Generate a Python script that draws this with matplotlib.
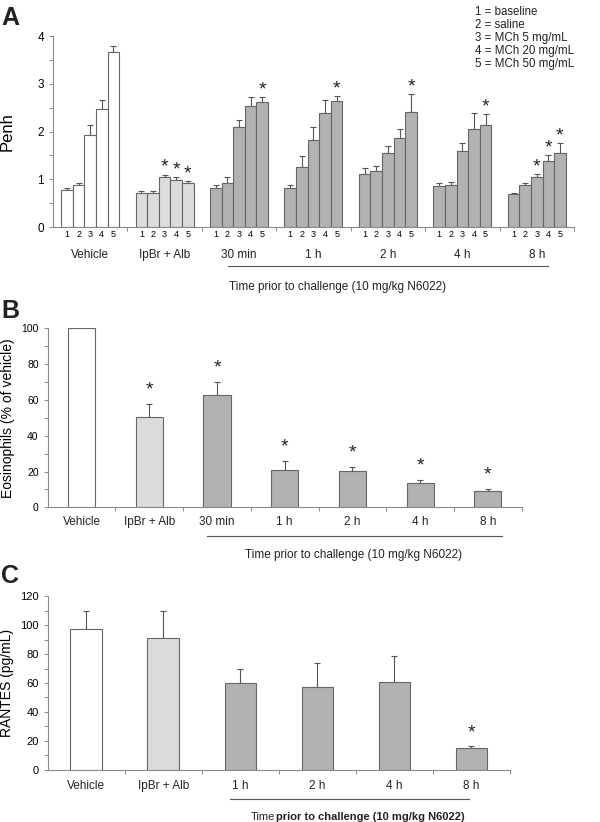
import numpy as np
import matplotlib.pyplot as plt
from matplotlib.transforms import blended_transform_factory

plt.rcParams['font.family'] = ['Liberation Sans', 'DejaVu Sans']
plt.rcParams['text.color'] = '#222222'

# ---- data ----
groups_a = ['Vehicle', 'IpBr + Alb', '30 min', '1 h', '2 h', '4 h', '8 h']
penh = [
    [0.77, 0.87, 1.92, 2.48, 3.66],
    [0.71, 0.71, 1.04, 0.98, 0.92],
    [0.82, 0.93, 2.10, 2.53, 2.62],
    [0.82, 1.26, 1.82, 2.38, 2.64],
    [1.11, 1.17, 1.54, 1.86, 2.41],
    [0.85, 0.87, 1.59, 2.05, 2.14],
    [0.69, 0.88, 1.04, 1.38, 1.54],
]
penh_err = [
    [0.05, 0.06, 0.21, 0.19, 0.14],
    [0.05, 0.05, 0.06, 0.06, 0.04],
    [0.06, 0.11, 0.14, 0.20, 0.11],
    [0.07, 0.23, 0.27, 0.28, 0.11],
    [0.12, 0.11, 0.15, 0.19, 0.38],
    [0.07, 0.07, 0.18, 0.33, 0.23],
    [0.03, 0.04, 0.07, 0.13, 0.21],
]
# (group, bar) pairs marked with *
penh_stars = [(1, 2), (1, 3), (1, 4), (2, 4), (3, 4), (4, 4), (5, 4), (6, 2), (6, 3), (6, 4)]
dose_labels = ['1', '2', '3', '4', '5']
legend_lines = ['1 = baseline', '2 = saline', '3 = MCh 5 mg/mL', '4 = MCh 20 mg/mL', '5 = MCh 50 mg/mL']

groups_b = ['Vehicle', 'IpBr + Alb', '30 min', '1 h', '2 h', '4 h', '8 h']
eos = [100, 50.3, 62.6, 20.8, 20.1, 13.4, 9.1]
eos_err = [0, 7.2, 7.2, 4.9, 2.4, 1.7, 1.0]
eos_stars = [1, 2, 3, 4, 5, 6]

groups_c = ['Vehicle', 'IpBr + Alb', '1 h', '2 h', '4 h', '8 h']
rantes = [97.0, 90.8, 59.8, 57.0, 60.5, 15.0]
rantes_err = [12.9, 19.1, 9.6, 17.0, 18.4, 1.3]
rantes_stars = [5]

WHITE, LIGHT, MID = '#ffffff', '#dcdcdc', '#b2b2b2'
EDGE = '#666666'
AXC = '#8a8a8a'


def colors_for(n_white, n_light, n):
    return [WHITE] * n_white + [LIGHT] * n_light + [MID] * (n - n_white - n_light)


def style_axes(ax):
    for s in ['top', 'right']:
        ax.spines[s].set_visible(False)
    for s in ['left', 'bottom']:
        ax.spines[s].set_color(AXC)
        ax.spines[s].set_linewidth(0.8)
    ax.tick_params(axis='both', which='both', color=AXC, direction='out', length=3, width=0.7)


def star(ax, x, y, size=14):
    ax.annotate('*', xy=(x, y), xytext=(0, -1), textcoords='offset points',
                ha='center', va='bottom', fontsize=size, color='#222222')


fig = plt.figure(figsize=(6, 8.22), dpi=100)

# ================= Panel A =================
axA = fig.add_axes([0.0883, 0.7238, 0.8683, 0.2324])
style_axes(axA)
bw = 0.156
colA = colors_for(1, 1, len(groups_a))
xs_all, labs_all = [], []
for g, (vals, errs) in enumerate(zip(penh, penh_err)):
    xs = g + (np.arange(5) - 2) * bw
    axA.bar(xs, vals, width=bw, color=colA[g], edgecolor=EDGE, linewidth=0.8, zorder=2)
    axA.errorbar(xs, vals, yerr=[np.zeros(5), errs], fmt='none', ecolor='#555555',
                 elinewidth=0.8, capsize=2, capthick=0.8, zorder=1)
    xs_all.extend(xs)
    labs_all.extend(dose_labels)
for g, b in penh_stars:
    x = g + (b - 2) * bw
    star(axA, x, penh[g][b] + penh_err[g][b], size=14)
axA.set_xlim(-0.5, 6.5)
axA.set_ylim(0, 4)
axA.set_yticks([0, 1, 2, 3, 4])
axA.set_yticks(np.arange(0.5, 4, 1), minor=True)
axA.set_xticks(xs_all)
axA.set_xticklabels(labs_all, fontsize=6.5)
axA.tick_params(axis='x', which='major', length=0, pad=2)
axA.set_xticks(np.arange(0.5, 7, 1), minor=True)
axA.tick_params(axis='y', labelsize=8.5)
axA.set_ylabel('Penh', fontsize=12)
axA.yaxis.set_label_coords(-0.073, 0.5)
trA = blended_transform_factory(axA.transData, axA.transAxes)
for g, name in enumerate(groups_a):
    axA.text(g, -0.147, name, transform=trA, ha='center', va='center', fontsize=8.5)
axA.plot([1.85, 6.15], [-0.204, -0.204], color='#555555', lw=0.8, transform=trA, clip_on=False)
axA.text(3.32, -0.314, 'Time prior to challenge (10 mg/kg N6022)', transform=trA,
         ha='center', va='center', fontsize=8.5)
fig.text(0.792, 0.993, '\n'.join(legend_lines), ha='left', va='top', fontsize=8.3, linespacing=1.12)
fig.text(0.002, 0.993, 'A', ha='left', va='top', fontsize=18, fontweight='bold')

# ================= Panel B =================
axB = fig.add_axes([0.0795, 0.3828, 0.79, 0.2178])
style_axes(axB)
xb = np.arange(len(groups_b))
colB = colors_for(1, 1, len(groups_b))
axB.bar(xb, eos, width=0.40, color=colB, edgecolor=EDGE, linewidth=0.8, zorder=2)
mask = np.array(eos_err) > 0
axB.errorbar(xb[mask], np.array(eos)[mask], yerr=[np.zeros(mask.sum()), np.array(eos_err)[mask]],
             fmt='none', ecolor='#555555', elinewidth=0.8, capsize=2.5, capthick=0.8, zorder=1)
for i in eos_stars:
    star(axB, xb[i], eos[i] + eos_err[i] + 4)
axB.set_xlim(-0.5, len(groups_b) - 0.5)
axB.set_ylim(0, 100)
axB.set_yticks(np.arange(0, 101, 20))
axB.set_yticks(np.arange(10, 100, 20), minor=True)
axB.set_xticks(xb)
axB.set_xticklabels([])
axB.tick_params(axis='x', which='major', length=0)
axB.set_xticks(np.arange(0.5, len(groups_b), 1), minor=True)
axB.tick_params(axis='y', labelsize=7.5)
axB.set_ylabel('Eosinophils (% of vehicle)', fontsize=10)
axB.yaxis.set_label_coords(-0.068, 0.5)
trB = blended_transform_factory(axB.transData, axB.transAxes)
for i, name in enumerate(groups_b):
    axB.text(i, -0.080, name, transform=trB, ha='center', va='center', fontsize=8.5)
axB.plot([1.85, 6.21], [-0.159, -0.159], color='#555555', lw=0.8, transform=trB, clip_on=False)
axB.text(4.02, -0.266, 'Time prior to challenge (10 mg/kg N6022)', transform=trB,
         ha='center', va='center', fontsize=8.5)
fig.text(0.002, 0.636, 'B', ha='left', va='top', fontsize=18, fontweight='bold')

# ================= Panel C =================
axC = fig.add_axes([0.0795, 0.0633, 0.7705, 0.2116])
style_axes(axC)
xc = np.arange(len(groups_c))
colC = colors_for(1, 1, len(groups_c))
axC.bar(xc, rantes, width=0.41, color=colC, edgecolor=EDGE, linewidth=0.8, zorder=2)
axC.errorbar(xc, rantes, yerr=[np.zeros(len(xc)), rantes_err], fmt='none', ecolor='#555555',
             elinewidth=0.8, capsize=2.5, capthick=0.8, zorder=1)
for i in rantes_stars:
    star(axC, xc[i], rantes[i] + rantes_err[i] + 4)
axC.set_xlim(-0.5, len(groups_c) - 0.5)
axC.set_ylim(0, 120)
axC.set_yticks(np.arange(0, 121, 20))
axC.set_yticks(np.arange(10, 120, 20), minor=True)
axC.set_xticks(xc)
axC.set_xticklabels([])
axC.tick_params(axis='x', which='major', length=0)
axC.set_xticks(np.arange(0.5, len(groups_c), 1), minor=True)
axC.tick_params(axis='y', labelsize=8)
axC.set_ylabel('RANTES (pg/mL)', fontsize=10)
axC.yaxis.set_label_coords(-0.072, 0.5)
trC = blended_transform_factory(axC.transData, axC.transAxes)
for i, name in enumerate(groups_c):
    axC.text(i, -0.090, name, transform=trC, ha='center', va='center', fontsize=8.5)
axC.plot([1.86, 4.97], [-0.165, -0.165], color='#555555', lw=0.8, transform=trC, clip_on=False)
axC.text(2.13, -0.268, 'Time', transform=trC, ha='left', va='center', fontsize=8)
axC.text(2.46, -0.268, 'prior to challenge (10 mg/kg N6022)', transform=trC,
         ha='left', va='center', fontsize=8, fontweight='bold')
fig.text(0.002, 0.314, 'C', ha='left', va='top', fontsize=18, fontweight='bold')

fig.savefig('out.png', dpi=100, facecolor='white')
